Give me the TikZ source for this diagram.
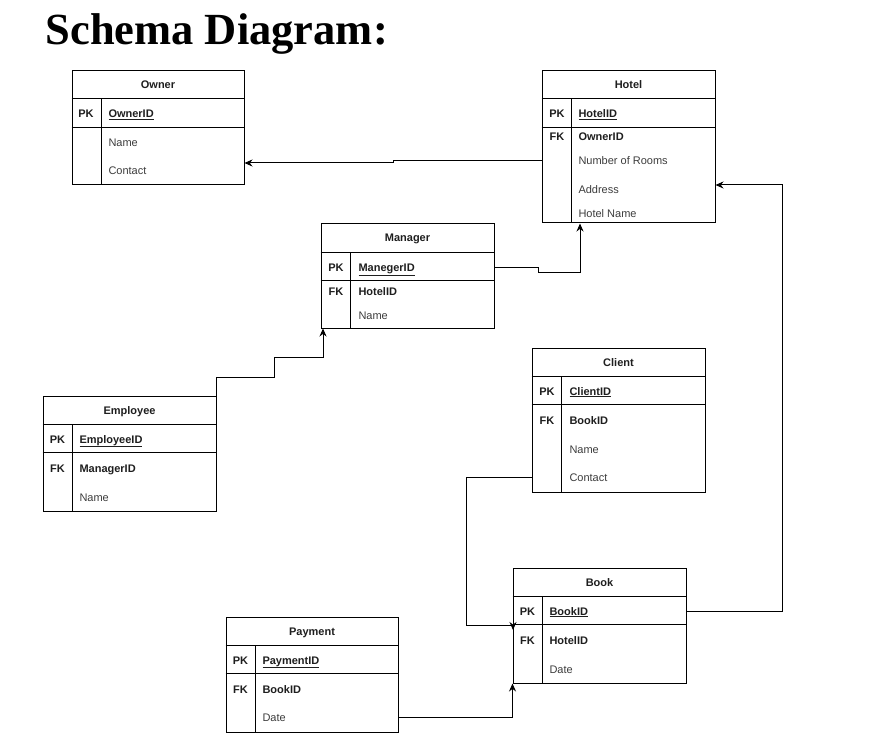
\documentclass[tikz,border=0pt]{standalone}
\usepackage{fontspec}
\setmainfont{Liberation Sans}
\newfontfamily\titlefont{Liberation Serif}
\usepackage{tikz}
\usetikzlibrary{arrows.meta}
\definecolor{fieldgray}{RGB}{60,60,60}
\definecolor{keyblack}{RGB}{30,30,30}

\begin{document}
\begin{tikzpicture}[x=1pt, y=-1pt, line width=1pt,
    tablebox/.style={draw, inner sep=0pt},
    headtext/.style={anchor=base, inner sep=0pt, font=\fontsize{11}{13}\selectfont\bfseries, text=keyblack},
    keytag/.style={anchor=base, inner sep=0pt, font=\fontsize{11}{13}\selectfont\bfseries, text=keyblack},
    keyfield/.style={anchor=base west, inner sep=0pt, font=\fontsize{11}{13}\selectfont\bfseries, text=keyblack},
    field/.style={anchor=base west, inner sep=0pt, font=\fontsize{11}{13}\selectfont, text=fieldgray},
    rel/.style={line width=1pt, -{Stealth[length=8pt,width=7pt]}}]
    \useasboundingbox (0,0) rectangle (871,741);

    % Title
    \node[anchor=base west, inner sep=0pt, font=\titlefont\fontsize{44.5}{50}\selectfont\bfseries] (title) at (45,45) {Schema Diagram:};

    % Table frames
    \node[tablebox, minimum width=172pt, minimum height=114pt] (owner) at (158,128) {};
    \node[tablebox, minimum width=173pt, minimum height=152pt] (hotel) at (628.5,147) {};
    \node[tablebox, minimum width=173pt, minimum height=104pt] (manager) at (407.5,276) {};
    \node[tablebox, minimum width=173pt, minimum height=115pt] (employee) at (129.5,453.5) {};
    \node[tablebox, minimum width=173pt, minimum height=144pt] (client) at (618.5,420) {};
    \node[tablebox, minimum width=173pt, minimum height=115pt] (book) at (599.5,625.5) {};
    \node[tablebox, minimum width=172pt, minimum height=115pt] (payment) at (312,674.5) {};

    % Header, key row and key column of every table
    \foreach \t/\name in {owner/Owner, hotel/Hotel, manager/Manager, employee/Employee,
                          client/Client, book/Book, payment/Payment} {
        \draw ([yshift=-28.5pt]\t.north west) -- ([yshift=-28.5pt]\t.north east);
        \draw ([yshift=-57pt]\t.north west) -- ([yshift=-57pt]\t.north east);
        \draw ([xshift=29.5pt,yshift=-28.5pt]\t.north west) -- ([xshift=29.5pt]\t.south west);
        \node[headtext] (\t head) at ([yshift=-18.5pt]\t.north) {\name};
    }

    % Owner
    \node[keytag] (ownerpk) at (86,118) {PK};
    \node[keyfield] (ownerid) at (108,118) {\underline{OwnerID}};
    \node[field] (ownername) at (108,147) {Name};
    \node[field] (ownercontact) at (108,175) {Contact};

    % Hotel
    \node[keytag] (hotelpk) at (557,118) {PK};
    \node[keyfield] (hotelid) at (578,118) {\underline{HotelID}};
    \node[keytag] (hotelfk) at (557,141) {FK};
    \node[keyfield] (hotelowner) at (578,141) {OwnerID};
    \node[field] (hotelrooms) at (578,165) {Number of Rooms};
    \node[field] (hoteladdress) at (578,194) {Address};
    \node[field] (hotelname) at (578,218) {Hotel Name};

    % Manager
    \node[keytag] (managerpk) at (336,271) {PK};
    \node[keyfield] (managerid) at (358,271) {\underline{ManegerID}};
    \node[keytag] (managerfk) at (336,295) {FK};
    \node[keyfield] (managerhotel) at (358,295) {HotelID};
    \node[field] (managername) at (358,319) {Name};

    % Employee
    \node[keytag] (employeepk) at (57.5,443) {PK};
    \node[keyfield] (employeeid) at (79,443) {\underline{EmployeeID}};
    \node[keytag] (employeefk) at (57.5,472) {FK};
    \node[keyfield] (employeemanager) at (79,472) {ManagerID};
    \node[field] (employeename) at (79,501) {Name};

    % Client
    \node[keytag] (clientpk) at (547,395) {PK};
    \node[keyfield] (clientid) at (569,395) {\underline{ClientID}};
    \node[keytag] (clientfk) at (547,424) {FK};
    \node[keyfield] (clientbook) at (569,424) {BookID};
    \node[field] (clientname) at (569,453) {Name};
    \node[field] (clientcontact) at (569,481) {Contact};

    % Book
    \node[keytag] (bookpk) at (527.5,615) {PK};
    \node[keyfield] (bookid) at (549,615) {\underline{BookID}};
    \node[keytag] (bookfk) at (527.5,644) {FK};
    \node[keyfield] (bookhotel) at (549,644) {HotelID};
    \node[field] (bookdate) at (549,673) {Date};

    % Payment
    \node[keytag] (paymentpk) at (240.5,664) {PK};
    \node[keyfield] (paymentid) at (262,664) {\underline{PaymentID}};
    \node[keytag] (paymentfk) at (240.5,693) {FK};
    \node[keyfield] (paymentbook) at (262,693) {BookID};
    \node[field] (paymentdate) at (262,721) {Date};

    % Relations
    \draw[rel] (hotel.west |- 0,161) -- (393,161) -- (393,163) -- (owner.east |- 0,163);
    \draw[rel] (manager.east |- 0,267) -- (538,267) -- (538,272) -| (580,0 |- hotel.south);
    \draw[rel] (employee.north east) |- (274,377) |- (323,357) -- (323,0 |- manager.south);
    \draw[rel] (client.west |- 0,477) -| (466,625) -| (513,630);
    \draw[rel] (book.east |- 0,611) -| (782,185) -- (hotel.east |- 0,185);
    \draw[rel] (payment.east |- 0,717) -| (book.south west);
\end{tikzpicture}
\end{document}
